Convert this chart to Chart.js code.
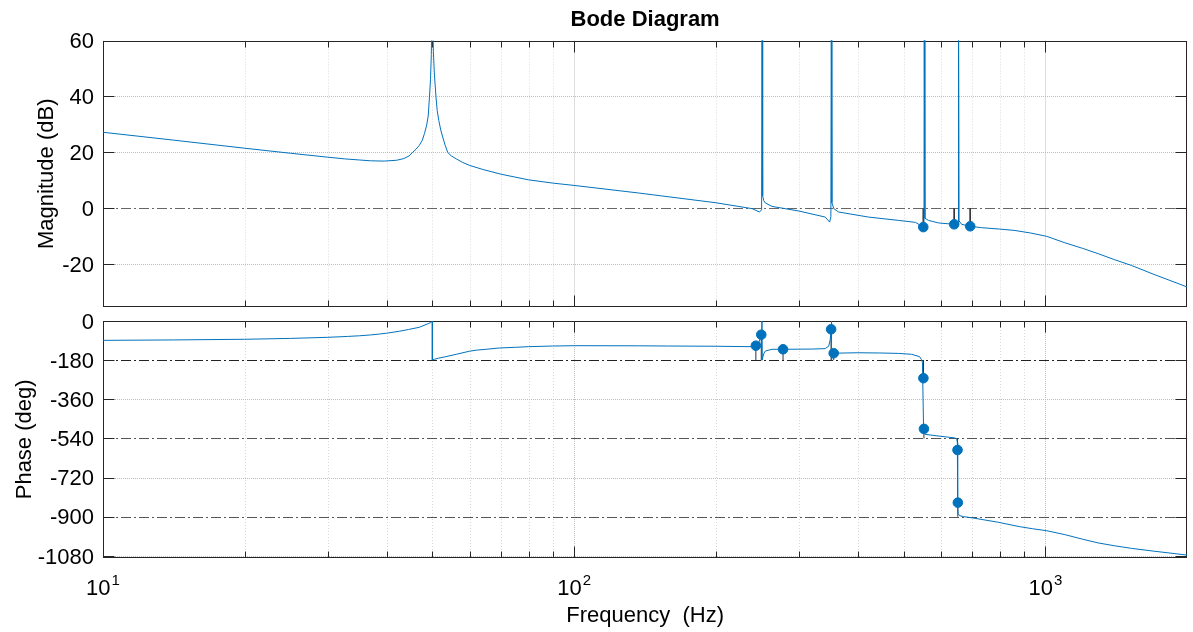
<!DOCTYPE html>
<html><head><meta charset="utf-8">
<script src="https://cdn.jsdelivr.net/npm/chart.js@4.4.1/dist/chart.umd.min.js"></script>
<style>
html,body{margin:0;padding:0;background:#fff;}
#wrap{position:relative;width:1193px;height:632px;overflow:hidden;background:#fff;}
canvas{position:absolute;left:0;}
#c1{top:0;}
#c2{top:314px;}
</style></head><body>
<div id="wrap"><canvas id="c1" width="1193" height="314"></canvas><canvas id="c2" width="1193" height="318"></canvas></div>
<script>
// ---------------- data ----------------
const magFreq = [10, 14.1, 20, 25, 30, 32.5, 35, 37, 39.5, 42, 43.5, 44.6, 45.4, 46.2, 46.9, 47.6, 48.1, 48.6, 49.0, 49.3,
  49.55, 49.75, 50.0, 50.25, 50.5, 50.9, 51.2, 51.6, 52.1, 52.6, 53.2, 53.9, 54.8, 56.2, 58, 59.9, 64, 70, 80, 90.4,
  100, 137, 200, 238.6, 247.4, 249.9, 250.4, 251.2, 252.5, 254.6, 263, 300, 341, 348.5, 350.6, 351.3, 352.3, 355.6, 364, 421,
  488, 530, 550.7, 552.6, 553.2, 555, 565, 593, 640.5, 653.6, 654.2, 656, 664, 692.6, 732, 800, 862, 930, 1007, 1100,
  1200, 1295, 1400, 1523, 1700, 2000];
const magDb = [27.2, 24.4, 21.5, 19.7, 18.3, 17.7, 17.3, 17.0, 16.9, 17.2, 17.8, 18.7, 20.0, 21.2, 22.5, 24.3, 26.7, 29.5, 33.0, 39.8,
  46.0, 55.0, 80, 56.0, 48.0, 39.8, 35.0, 31.4, 28.0, 25.5, 22.7, 20.0, 18.8, 17.7, 16.4, 15.4, 13.9, 12.2, 10.2, 9.0,
  8.2, 5.5, 2.0, -0.1, -1.3, -0.5, 75, 4.5, 2.8, 1.9, 0.7, -0.95, -3.1, -4.9, -3.0, 75, 2.0, -0.1, -1.3, -3.1,
  -4.3, -5.0, -6.7, -6.0, 75, -3.5, -4.3, -5.2, -5.7, -5.8, 75, -4.5, -5.7, -6.4, -6.9, -7.4, -7.9, -8.8, -10.0, -12.3,
  -14.3, -16.2, -18.3, -20.4, -23.6, -28.1];

const phaseFreq = [10, 14.1, 20, 25, 30, 33, 35, 37, 38.6, 40, 42.6, 44.5, 46.9, 48, 49, 49.6, 50.0, 50.0, 50.5, 51.5,
  53.4, 56.2, 59.9, 62, 65, 69.4, 75, 80, 90, 100, 137, 158, 200, 235, 240, 243, 246.5, 249.5, 250.3, 250.3,
  251, 252.8, 254.6, 263, 277.5, 320, 341, 347, 349.5, 351, 351.7, 351.7, 353, 355.5, 400, 444, 488, 520, 541, 546,
  548.5, 551.5, 552.5, 556, 600, 640, 648.6, 650.5, 651.5, 653, 658, 670, 700, 794, 880, 940, 1007, 1100, 1200, 1294,
  1400, 1523, 1700, 2000];
const phaseDeg = [-89, -87, -84, -80, -75, -71, -68, -64, -60, -56, -47, -39, -29, -20, -12, -7, -1, -179, -176, -171,
  -164, -153, -139, -134, -130, -124, -121, -118, -115, -113.5, -114, -115, -116, -118, -117, -113.5, -100, -63, 0, -180,
  -172, -148, -138, -130, -130, -129, -127, -115, -85, -38, 0, -180, -160, -148, -146, -147, -149, -153, -164, -178,
  -190, -500, -516, -521, -530, -537, -541, -560, -860, -885, -895, -899, -905, -925, -945, -955, -964, -982, -1003, -1020,
  -1033, -1045, -1058, -1076];

// stability-margin markers
const magMarkFreq = [550.7, 640.5, 692.6];
const magMarkDb   = [-6.7, -5.7, -6.4];
const magMarkRef  = [0, 0, 0];
const phMarkFreq = [243, 249.5, 277.5, 351, 355.5, 551, 552.5, 651, 652];
const phMarkDeg  = [-113.5, -63, -130, -38, -148, -263, -496, -593, -835];
const phMarkRef  = [-180, -180, -180, -180, -180, -180, -540, -540, -900];

// ticks / reference lines
const magTicks = [-20, 0, 20, 40, 60];
const phaseTicks = [0, -180, -360, -540, -720, -900, -1080];
const magRefLines = [0];
const phaseRefLines = [-180, -540, -900];
const freqMajor = [10, 100, 1000];
const freqMinor = [20, 30, 40, 50, 60, 70, 80, 90, 200, 300, 400, 500, 600, 700, 800, 900, 2000];
const freqLabelBase = ['10', '10', '10'];
const freqLabelExp = ['1', '2', '3'];

// ---------------- drawing ----------------
const FONT = "'Liberation Sans', Arial, Helvetica, sans-serif";
const BLUE = '#0072BD';

function pts(fs, vs) { return fs.map((f, i) => ({x: f, y: vs[i]})); }

function bodePlugin(cfg) {
  return {
    id: 'bode',
    beforeDatasetsDraw(chart) {
      const {ctx, chartArea: a, scales: {x, y}} = chart;
      ctx.save();
      ctx.beginPath(); ctx.rect(a.left, a.top, a.right - a.left, a.bottom - a.top); ctx.clip();
      ctx.lineWidth = 1;
      const vline = px => { ctx.beginPath(); ctx.moveTo(px, a.top); ctx.lineTo(px, a.bottom); ctx.stroke(); };
      const hline = py => { ctx.beginPath(); ctx.moveTo(a.left, py); ctx.lineTo(a.right, py); ctx.stroke(); };
      ctx.strokeStyle = '#d9d9d9'; ctx.setLineDash([1, 2]);
      freqMinor.forEach(f => vline(Math.round(x.getPixelForValue(f)) + 0.5));
      ctx.strokeStyle = '#bdbdbd'; ctx.setLineDash([1, 1]);
      freqMajor.forEach(f => vline(Math.round(x.getPixelForValue(f)) + 0.5));
      cfg.ticks.forEach(v => { if (!cfg.refLines.includes(v)) hline(Math.round(y.getPixelForValue(v)) + 0.5); });
      ctx.setLineDash([10, 3, 2, 3]);
      cfg.refLines.forEach((v, i) => { ctx.strokeStyle = cfg.refColors[i]; hline(Math.round(y.getPixelForValue(v)) + 0.5); });
      ctx.restore();

      // box and inward ticks (under the data, like the original)
      ctx.save();
      ctx.setLineDash([]);
      ctx.strokeStyle = '#262626'; ctx.lineWidth = 1;
      const L = Math.round(a.left) + 0.5, R = Math.round(a.right) - 0.5, T = Math.round(a.top) + 0.5, B = Math.round(a.bottom) - 0.5;
      ctx.strokeRect(L, T, R - L, B - T);
      ctx.beginPath();
      const xt = (f, len) => { const px = Math.round(x.getPixelForValue(f)) + 0.5; ctx.moveTo(px, B); ctx.lineTo(px, B - len); ctx.moveTo(px, T); ctx.lineTo(px, T + len); };
      freqMajor.forEach(f => xt(f, 11));
      freqMinor.forEach(f => { if (f < 2000) xt(f, 6); });
      cfg.ticks.forEach(v => { const py = Math.round(y.getPixelForValue(v)) + 0.5; ctx.moveTo(L, py); ctx.lineTo(L + 11, py); ctx.moveTo(R, py); ctx.lineTo(R - 11, py); });
      ctx.stroke();
      ctx.restore();
    },
    afterDatasetsDraw(chart) {
      const {ctx, chartArea: a, scales: {x, y}} = chart;
      ctx.save();
      ctx.fillStyle = '#000';
      ctx.font = '22px ' + FONT;
      ctx.textAlign = 'right'; ctx.textBaseline = 'middle';
      cfg.ticks.forEach(v => ctx.fillText(String(v), 94, y.getPixelForValue(v) + 1.5));
      ctx.save();
      ctx.translate(cfg.yTitleX, (a.top + a.bottom) / 2);
      ctx.rotate(-Math.PI / 2);
      ctx.textAlign = 'center'; ctx.textBaseline = 'alphabetic';
      ctx.font = '22px ' + FONT;
      ctx.fillText(cfg.yTitle, 0, 0);
      ctx.restore();
      if (cfg.title) {
        ctx.font = 'bold 22px ' + FONT; ctx.textAlign = 'center'; ctx.textBaseline = 'alphabetic';
        ctx.fillText(cfg.title, (a.left + a.right) / 2, 26);
      }
      if (cfg.xLabels) {
        ctx.textBaseline = 'alphabetic';
        freqMajor.forEach((f, i) => {
          const px = x.getPixelForValue(f);
          ctx.font = '22px ' + FONT; const w1 = ctx.measureText(freqLabelBase[i]).width;
          ctx.font = '15px ' + FONT; const w2 = ctx.measureText(freqLabelExp[i]).width;
          const start = px - (w1 + w2 + 1) / 2;
          ctx.textAlign = 'left';
          ctx.font = '22px ' + FONT; ctx.fillText(freqLabelBase[i], start, cfg.xLabelBase);
          ctx.font = '15px ' + FONT; ctx.fillText(freqLabelExp[i], start + w1 + 1, cfg.xLabelBase - 10);
        });
        ctx.font = '22px ' + FONT; ctx.textAlign = 'center';
        ctx.fillText('Frequency  (Hz)', (a.left + a.right) / 2, cfg.xTitleBase);
      }
      ctx.restore();
    }
  };
}

function makeChart(id, cfg, curveF, curveV, mF, mV, mR) {
  const datasets = [
    {data: pts(mF, mV), showLine: false, pointRadius: 4.8, pointBorderWidth: 1, pointBackgroundColor: BLUE, pointBorderColor: BLUE, order: 0},
    {data: pts(curveF, curveV), borderColor: BLUE, borderWidth: 1, pointRadius: 0, tension: 0, fill: false, order: 1}
  ];
  mF.forEach((f, i) => datasets.push({data: [{x: f, y: mR[i]}, {x: f, y: mV[i]}], borderColor: '#333333', borderWidth: 1, pointRadius: 0, fill: false, order: 2}));
  return new Chart(document.getElementById(id), {
    type: 'line',
    data: {datasets},
    options: {
      responsive: false, animation: false, devicePixelRatio: 1,
      layout: {padding: {top: cfg.padTop, right: 3, left: 0, bottom: 0}},
      plugins: {legend: {display: false}, tooltip: {enabled: false}, title: {display: false}},
      events: [],
      scales: {
        x: {type: 'logarithmic', min: 10, max: 2000, ticks: {display: false}, grid: {display: false}, border: {display: false},
            afterFit: s => { s.height = cfg.xH; }},
        y: {type: 'linear', min: cfg.ymin, max: cfg.ymax, ticks: {display: false}, grid: {display: false}, border: {display: false},
            afterFit: s => { s.width = 103; }}
      }
    },
    plugins: [bodePlugin(cfg)]
  });
}

makeChart('c1', {padTop: 40.5, xH: 7, ymin: -35.25, ymax: 60, ticks: magTicks, refLines: magRefLines, refColors: ['#666666'],
  yTitle: 'Magnitude (dB)', yTitleX: 53, title: 'Bode Diagram', xLabels: false}, magFreq, magDb, magMarkFreq, magMarkDb, magMarkRef);
makeChart('c2', {padTop: 7, xH: 74.3, ymin: -1088, ymax: 0, ticks: phaseTicks, refLines: phaseRefLines, refColors: ['#222222', '#555555', '#555555'],
  yTitle: 'Phase (deg)', yTitleX: 31, title: null, xLabels: true, xLabelBase: 281, xTitleBase: 308}, phaseFreq, phaseDeg, phMarkFreq, phMarkDeg, phMarkRef);
</script>
</body></html>
